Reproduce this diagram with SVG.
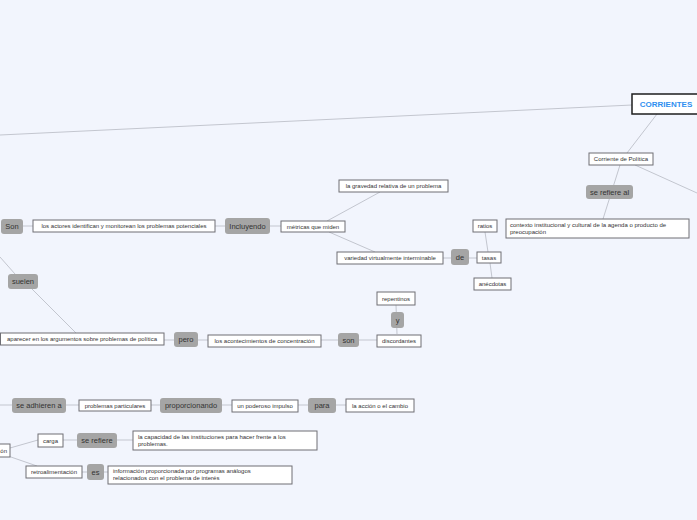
<svg xmlns="http://www.w3.org/2000/svg" width="697" height="520" viewBox="0 0 697 520">
<style>
.bg{fill:#f2f5fd}
.c{stroke:#c3c6cf;stroke-width:1;fill:none}
.b{fill:#fff;stroke:#6f6f75;stroke-width:1}
.g{fill:#a5a5a5;stroke:none}
.t{font-family:"Liberation Sans",Arial,sans-serif;font-size:6px;fill:#333;text-anchor:middle}
.l{text-anchor:start}
.gt{font-family:"Liberation Sans",Arial,sans-serif;font-size:7.5px;fill:#333;text-anchor:middle}
.root{fill:#fff;stroke:#1e1e1e;stroke-width:1.5}
.rt{font-family:"Liberation Sans",Arial,sans-serif;font-size:8px;font-weight:bold;fill:#2f8ff0;text-anchor:middle}
</style>
<rect class="bg" x="0" y="0" width="697" height="520"/>
<g id="connectors">
<line class="c" x1="632" y1="105" x2="0" y2="135"/>
<line class="c" x1="657" y1="114" x2="627" y2="153"/>
<line class="c" x1="635" y1="165" x2="697" y2="193"/>
<line class="c" x1="620" y1="165" x2="603" y2="219"/>
<line class="c" x1="23" y1="226" x2="281" y2="226"/>
<line class="c" x1="327" y1="221" x2="380" y2="192"/>
<line class="c" x1="329" y1="232" x2="375" y2="252"/>
<line class="c" x1="443" y1="258" x2="477" y2="258"/>
<line class="c" x1="485" y1="232" x2="488" y2="252"/>
<line class="c" x1="490" y1="263" x2="492" y2="278"/>
<line class="c" x1="0" y1="257" x2="15" y2="274"/>
<line class="c" x1="32" y1="289" x2="76" y2="333"/>
<line class="c" x1="164" y1="340" x2="377" y2="340"/>
<line class="c" x1="397" y1="334" x2="396" y2="305"/>
<line class="c" x1="0" y1="405" x2="346" y2="405"/>
<line class="c" x1="10" y1="448" x2="38" y2="440"/>
<line class="c" x1="63" y1="440" x2="133" y2="440"/>
<line class="c" x1="8" y1="456" x2="37" y2="466"/>
<line class="c" x1="82" y1="472" x2="108" y2="472"/>
</g>
<g id="corrientes"><rect class="root" x="632" y="94" width="72" height="20"/><text class="rt" x="666" y="107">CORRIENTES</text></g>
<g id="corriente-politica"><rect class="b" x="589" y="153" width="64" height="12"/><text class="t" x="621" y="161">Corriente de Política</text></g>
<g id="se-refiere-al"><rect class="g" x="586" y="185" width="47" height="14" rx="3"/><text class="gt" x="609.5" y="194.5">se refiere al</text></g>
<g id="contexto"><rect class="b" x="506" y="219" width="183" height="19"/><text class="t l" x="510" y="226.5">contexto institucional y cultural de la agenda o producto de</text><text class="t l" x="510" y="233.5">preocupación</text></g>
<g id="ratios"><rect class="b" x="473" y="220" width="24" height="12"/><text class="t" x="485" y="228">ratios</text></g>
<g id="tasas"><rect class="b" x="477" y="252" width="24" height="11"/><text class="t" x="489" y="259.5">tasas</text></g>
<g id="anecdotas"><rect class="b" x="474" y="278" width="37" height="12"/><text class="t" x="492.5" y="286">anécdotas</text></g>
<g id="de"><rect class="g" x="451" y="249" width="18" height="16" rx="3"/><text class="gt" x="460" y="259.5">de</text></g>
<g id="variedad"><rect class="b" x="337" y="252" width="106" height="12"/><text class="t" x="390" y="260">variedad virtualmente interminable</text></g>
<g id="gravedad"><rect class="b" x="339" y="180" width="109" height="12"/><text class="t" x="393.5" y="188">la gravedad relativa de un problema</text></g>
<g id="metricas"><rect class="b" x="281" y="221" width="64" height="11"/><text class="t" x="313" y="228.5">métricas que miden</text></g>
<g id="incluyendo"><rect class="g" x="225" y="218" width="45" height="16" rx="3"/><text class="gt" x="247.5" y="228.5">Incluyendo</text></g>
<g id="actores"><rect class="b" x="33" y="220" width="182" height="12"/><text class="t" x="124" y="228">los actores identifican y monitorean los problemas potenciales</text></g>
<g id="son-upper"><rect class="g" x="1" y="219" width="22" height="15" rx="3"/><text class="gt" x="12" y="229">Son</text></g>
<g id="suelen"><rect class="g" x="8" y="274" width="30" height="15" rx="3"/><text class="gt" x="23" y="284">suelen</text></g>
<g id="aparecer"><rect class="b" x="0.5" y="333" width="163.5" height="12"/><text class="t" x="82" y="341">aparecer en los argumentos sobre problemas de política</text></g>
<g id="pero"><rect class="g" x="174" y="332" width="24" height="15" rx="3"/><text class="gt" x="186" y="342">pero</text></g>
<g id="acontecimientos"><rect class="b" x="208" y="335" width="113" height="12"/><text class="t" x="264.5" y="343">los acontecimientos de concentración</text></g>
<g id="son"><rect class="g" x="338" y="333" width="21" height="14" rx="3"/><text class="gt" x="348.5" y="342.5">son</text></g>
<g id="discordantes"><rect class="b" x="377" y="335" width="44" height="12"/><text class="t" x="399" y="343">discordantes</text></g>
<g id="y"><rect class="g" x="391" y="312" width="13" height="16" rx="3"/><text class="gt" x="397.5" y="322.5">y</text></g>
<g id="repentinos"><rect class="b" x="377" y="292" width="38" height="13"/><text class="t" x="396" y="300.5">repentinos</text></g>
<g id="se-adhieren"><rect class="g" x="12" y="398" width="54" height="15" rx="3"/><text class="gt" x="39" y="408">se adhieren a</text></g>
<g id="problemas-particulares"><rect class="b" x="79" y="400" width="72" height="11"/><text class="t" x="115" y="407.5">problemas particulares</text></g>
<g id="proporcionando"><rect class="g" x="160" y="398" width="62" height="15" rx="3"/><text class="gt" x="191" y="408">proporcionando</text></g>
<g id="impulso"><rect class="b" x="232" y="400" width="66" height="12"/><text class="t" x="265" y="408">un poderoso impulso</text></g>
<g id="para"><rect class="g" x="308" y="398" width="28" height="15" rx="3"/><text class="gt" x="322" y="408">para</text></g>
<g id="accion"><rect class="b" x="346" y="399" width="68" height="13"/><text class="t" x="380" y="407.5">la acción o el cambio</text></g>
<g id="on-node"><rect class="b" x="-40" y="444" width="50" height="13"/><text class="t" x="7" y="452.5" style="text-anchor:end">ón</text></g>
<g id="carga"><rect class="b" x="38" y="434" width="25" height="13"/><text class="t" x="50.5" y="442.5">carga</text></g>
<g id="se-refiere"><rect class="g" x="77" y="433" width="40" height="15" rx="3"/><text class="gt" x="97" y="443">se refiere</text></g>
<g id="capacidad"><rect class="b" x="133" y="431" width="184" height="19"/><text class="t l" x="138" y="438.5">la capacidad de las instituciones para hacer frente a los</text><text class="t l" x="138" y="445.5">problemas.</text></g>
<g id="retroalimentacion"><rect class="b" x="26" y="466" width="56" height="12"/><text class="t" x="54" y="474">retroalimentación</text></g>
<g id="es"><rect class="g" x="87" y="464" width="17" height="16" rx="3"/><text class="gt" x="95.5" y="474.5">es</text></g>
<g id="informacion"><rect class="b" x="108" y="466" width="184" height="18"/><text class="t l" x="113" y="473">información proporcionada por programas análogos</text><text class="t l" x="113" y="480">relacionados con el problema de interés</text></g>
</svg>
